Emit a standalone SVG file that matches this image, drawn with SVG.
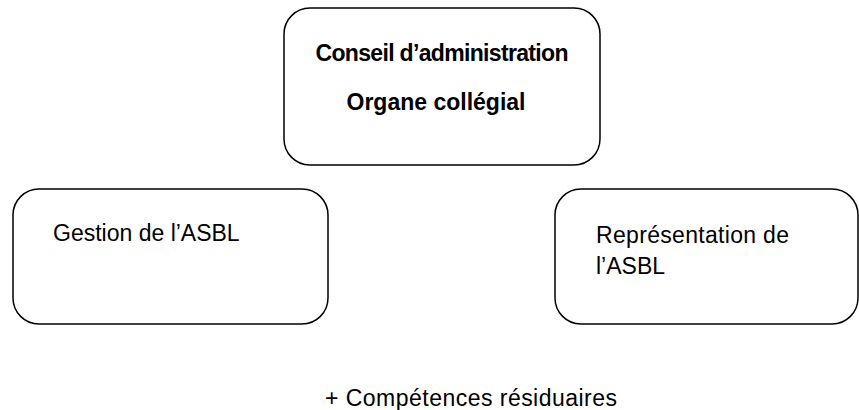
<svg xmlns="http://www.w3.org/2000/svg" width="859" height="410" viewBox="0 0 859 410">
<style>
.box{fill:#fff;stroke:#000;stroke-width:1.5}
.t{font-family:"Liberation Sans",Arial,sans-serif;font-size:23px;fill:#000}
.b{font-weight:bold;text-anchor:middle}
</style>
<rect width="859" height="410" fill="#fff"/>
<g id="node-conseil">
<rect class="box" x="284" y="8" width="316" height="157" rx="26"/>
<text class="t b" x="442" y="61" textLength="253">Conseil d’administration</text>
<text class="t b" x="436" y="110">Organe collégial</text>
</g>
<g id="node-gestion">
<rect class="box" x="13" y="189" width="315" height="135" rx="26"/>
<text class="t" x="53" y="241">Gestion de l’ASBL</text>
</g>
<g id="node-representation">
<rect class="box" x="555" y="189" width="303" height="135" rx="26"/>
<text class="t" x="596" y="243" textLength="193">Représentation de</text>
<text class="t" x="596" y="274">l’ASBL</text>
</g>
<g id="connectors"></g>
<text class="t" x="325" y="406" textLength="292">+ Compétences résiduaires</text>
</svg>
